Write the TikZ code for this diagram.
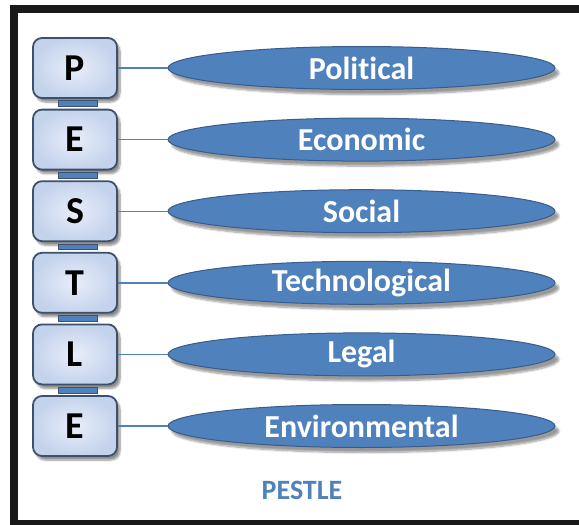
\documentclass[tikz,border=0pt]{standalone}
\usepackage{fontspec}
\setmainfont{Carlito}[Ligatures=NoCommon]
\usetikzlibrary{shapes.geometric,shadows.blur}

\definecolor{pestblue}{RGB}{79,129,189}
\definecolor{pestedge}{RGB}{56,93,138}
\definecolor{boxedge}{RGB}{62,80,106}
\definecolor{boxin}{RGB}{232,238,249}
\definecolor{boxout}{RGB}{196,211,236}

\tikzset{
  letterbox/.style={rectangle, rounded corners=9pt, draw=boxedge, line width=1.8pt,
    inner color=boxin, outer color=boxout, minimum width=84pt, minimum height=60pt,
    font=\fontsize{38}{38}\selectfont\bfseries, text=black,
    blur shadow={shadow xshift=3pt, shadow yshift=-4pt, shadow blur steps=8, shadow opacity=45}},
  factor/.style={ellipse, draw=pestedge, line width=1pt, fill=pestblue, inner sep=0pt,
    minimum width=387pt, minimum height=43pt, text=white,
    font=\fontsize{32}{32}\selectfont\bfseries,
    blur shadow={shadow xshift=4pt, shadow yshift=-5pt, shadow blur steps=8, shadow opacity=40}},
  link/.style={draw=pestblue, line width=1.4pt},
  joint/.style={fill=pestblue, draw=boxedge, line width=1pt}
}

\begin{document}
\begin{tikzpicture}[x=1pt, y=-1pt]
  \useasboundingbox (0,0) rectangle (579,525);
  % frame
  \fill[black!90] (10,5) rectangle (579,13);
  \fill[black!90] (10,5) rectangle (18,525);
  \fill[black!90] (10,520) rectangle (579,525);

  \foreach \ltr/\word [count=\i from 0] in {P/Political, E/Economic, S/Social,
      T/Technological, L/Legal, E/Environmental} {
    \pgfmathsetmacro{\ypos}{68+71.6*\i}
    \node[letterbox] (b\i) at (75,\ypos) {\ltr};
    \node[factor] (f\i) at (361.5,\ypos) {\word};
    \draw[link] (b\i) -- (f\i);
  }

  % links between the letters
  \foreach \i in {0,...,4} {
    \pgfmathtruncatemacro{\j}{\i+1}
    \draw[joint] ([xshift=-17pt, yshift=-2pt]b\i.south) rectangle ([xshift=22pt, yshift=2pt]b\j.north);
  }

  \node[text=pestblue, font=\fontsize{28}{28}\selectfont\bfseries] (title) at (302,490) {PESTLE};
\end{tikzpicture}
\end{document}
